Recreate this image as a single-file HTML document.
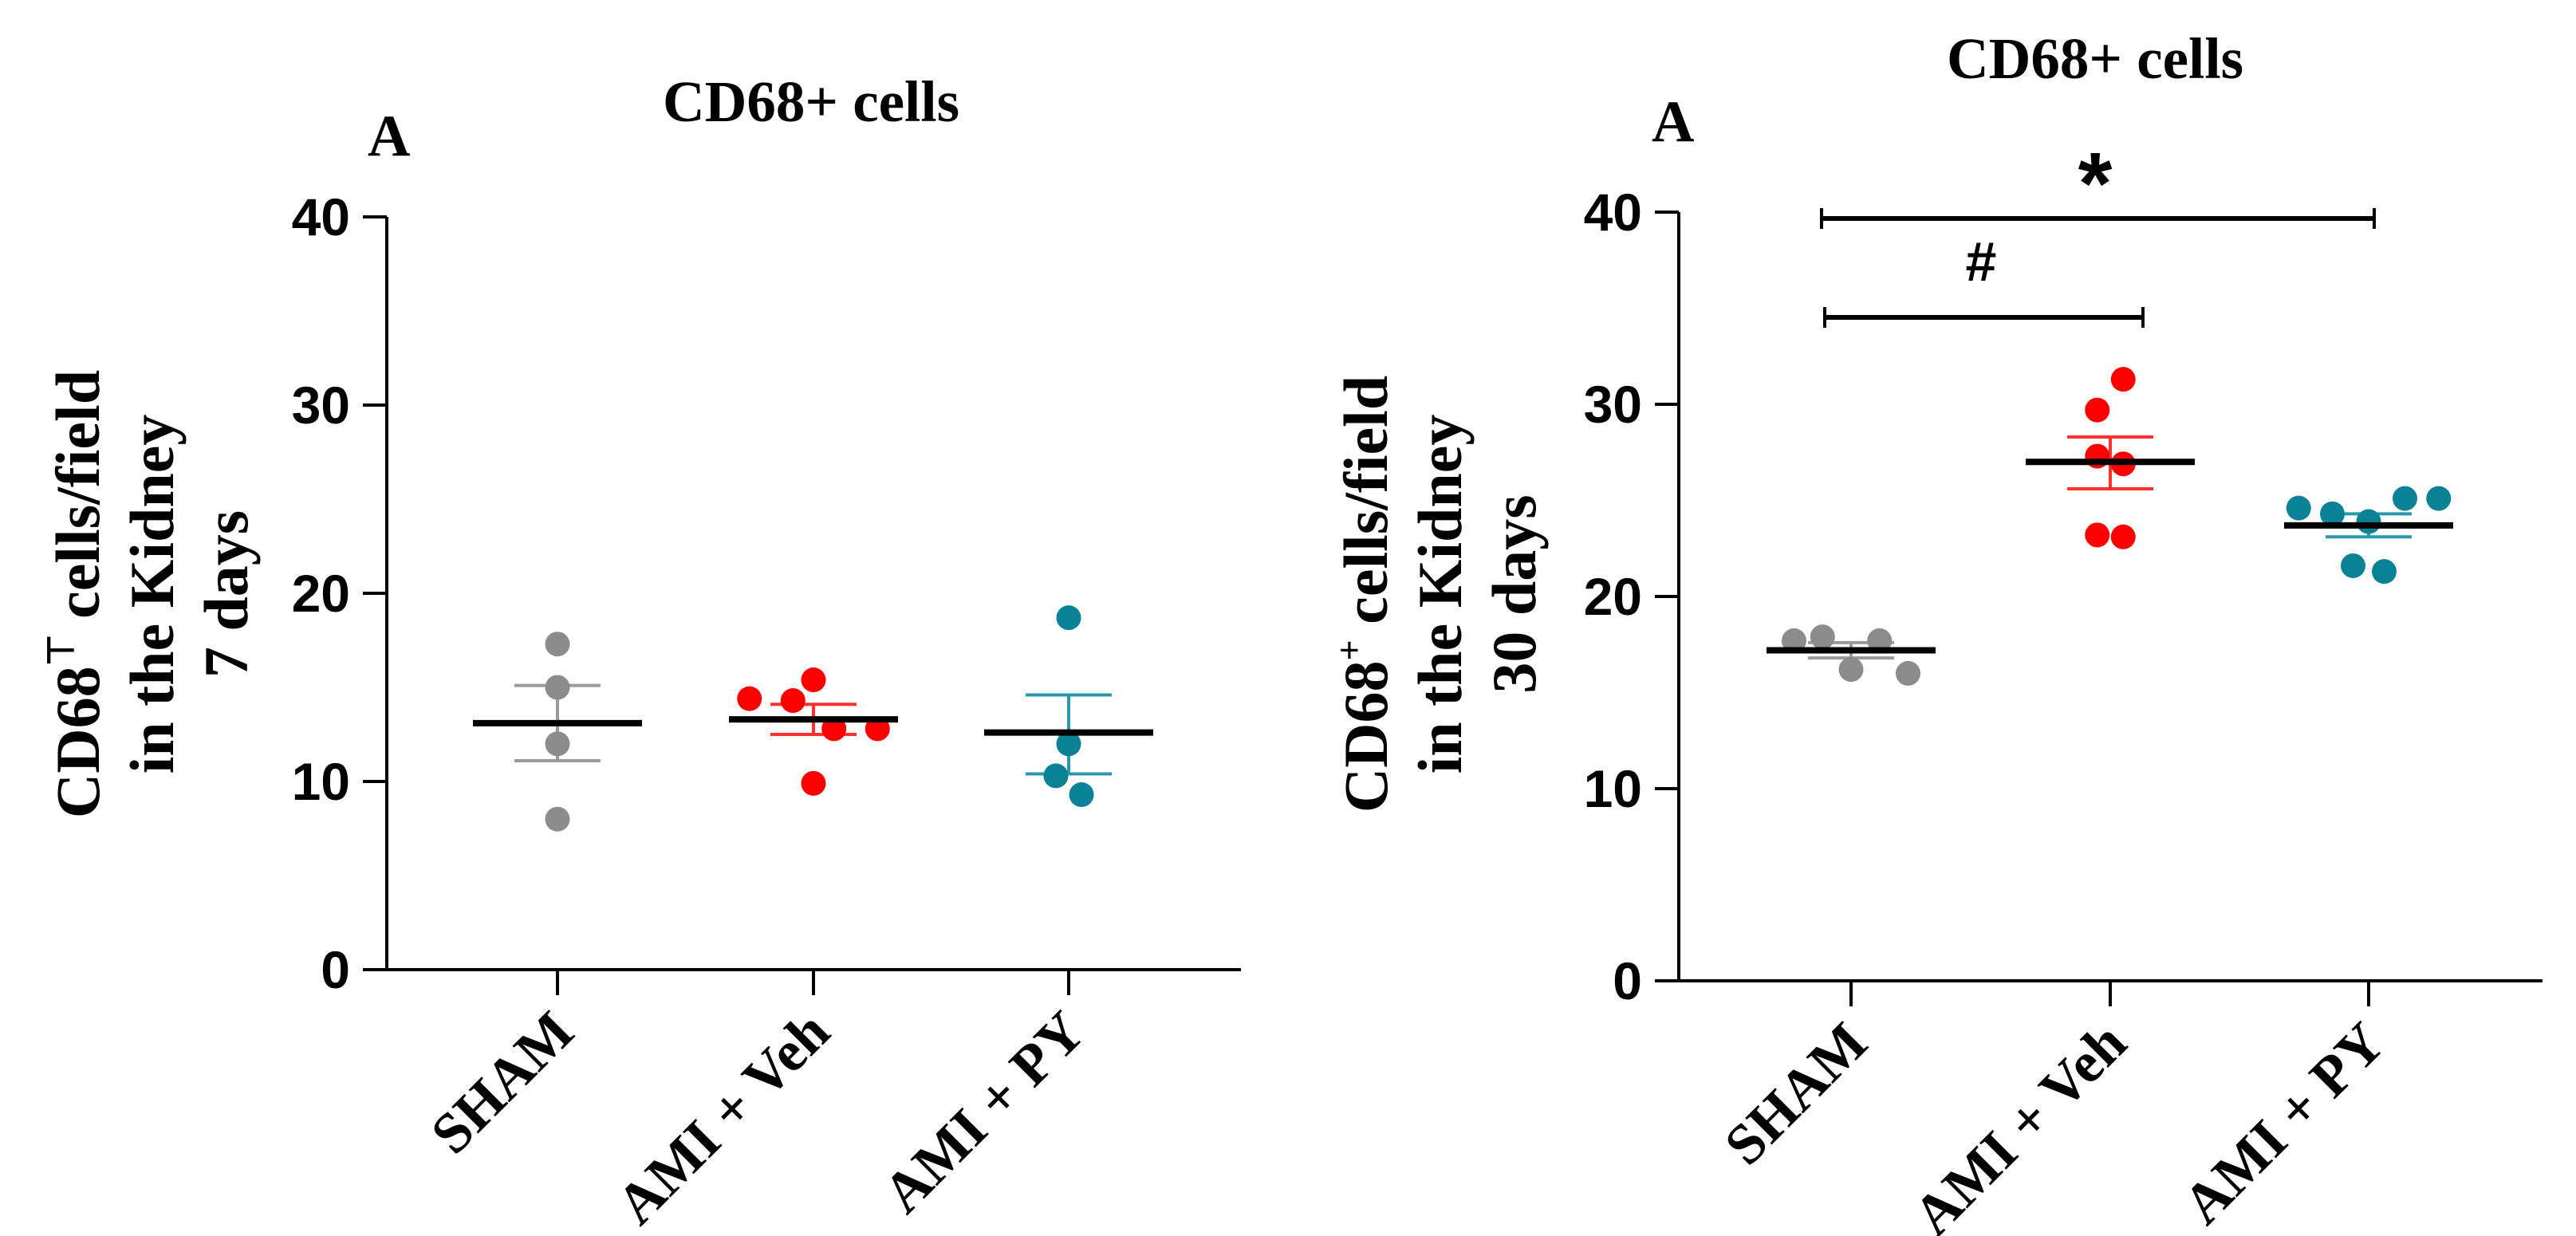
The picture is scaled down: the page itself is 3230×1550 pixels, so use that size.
<!DOCTYPE html>
<html><head><meta charset="utf-8"><style>
html,body{margin:0;padding:0;background:#fff;}
svg{display:block;}
</style></head><body>
<svg id="fig" width="3230" height="1550" viewBox="0 0 3230 1550" xmlns="http://www.w3.org/2000/svg"></svg>
<script>
const categories = ["SHAM", "AMI + Veh", "AMI + PY"];
const colors = ["#8c8c8c", "#ff0000", "#0a8296"];
const semColors = ["#9a9a9a", "#ff3030", "#2a98aa"];
const yTicks = [0, 10, 20, 30, 40];
// Panel 1 (7 days)
const p1Values = [
  [17.3, 15.0, 12.0, 8.0],
  [14.4, 14.3, 15.4, 12.8, 12.8, 9.9],
  [18.7, 12.0, 10.3, 9.3]
];
const p1Jitter = [[0,0,0,0],[-0.25,-0.08,0,0.08,0.25,0],[0,0,-0.05,0.05]];
const p1Mean = [13.1, 13.3, 12.6];
const p1SemHi = [15.1, 14.1, 14.6];
const p1SemLo = [11.1, 12.5, 10.4];
// Panel 2 (30 days)
const p2Values = [
  [17.7, 17.9, 16.2, 17.7, 16.0],
  [31.3, 29.7, 27.3, 26.9, 23.2, 23.1],
  [24.6, 24.3, 21.6, 23.9, 21.3, 25.1, 25.1]
];
const p2Jitter = [[-0.22,-0.11,0,0.11,0.22],[0.05,-0.05,-0.05,0.05,-0.05,0.05],[-0.27,-0.14,-0.06,0,0.06,0.14,0.27]];
const p2Mean = [17.2, 27.0, 23.7];
const p2SemHi = [17.6, 28.3, 24.3];
const p2SemLo = [16.8, 25.6, 23.1];

const NS = "http://www.w3.org/2000/svg";
const svg = document.getElementById("fig");
function el(tag, attrs, parent, text){
  const e = document.createElementNS(NS, tag);
  for (const k in attrs) e.setAttribute(k, attrs[k]);
  if (text !== undefined) e.textContent = text;
  (parent || svg).appendChild(e);
  return e;
}
const serif = '"Liberation Serif", serif';
const sans = '"Liberation Sans", sans-serif';

function panel(cfg, vals, jit, mean, hi, lo, ylabel3, suffix){
  const g = el("g", {});
  
  
  const y = v => cfg.y0 + (cfg.y40 - cfg.y0) * v / 40;
  const x = i => cfg.cx[i];
  const catW = cfg.cx[1] - cfg.cx[0];
  const t = el("text", {x: cfg.titleX, y: cfg.titleY, "font-family": serif, "font-weight": "bold", "font-size": 73, "text-anchor": "middle"}, g, "CD68+ cells");
  
  
  const a = el("text", {x: cfg.aX, y: cfg.aY, "font-family": serif, "font-weight": "bold", "font-size": 74}, g, "A");
  
  
  const lab = el("text", {transform: `translate(${cfg.labX},${cfg.labY}) rotate(-90)`, "font-family": serif, "font-weight": "bold", "font-size": 78, "text-anchor": "middle"}, g);
  
  
  el("tspan", {x: 0, dy: 0}, lab, "CD68");
  el("tspan", {"font-size": 46, dy: -32}, lab, cfg.sup);
  el("tspan", {dy: 32}, lab, " cells/field");
  el("tspan", {x: 0, dy: 93}, lab, "in the Kidney");
  el("tspan", {x: 0, dy: 93}, lab, ylabel3);
  const ax = el("line", {x1: cfg.ax, y1: cfg.y40, x2: cfg.ax, y2: cfg.y0, stroke: "#000", "stroke-width": 4}, g);
  
  
  const xa = el("line", {x1: cfg.ax - 30, y1: cfg.y0, x2: cfg.xEnd, y2: cfg.y0, stroke: "#000", "stroke-width": 4}, g);
  
  
  yTicks.forEach(v => {
    if (v > 0) el("line", {x1: cfg.ax - 30, y1: y(v), x2: cfg.ax, y2: y(v), stroke: "#000", "stroke-width": 4}, g);
    const tl = el("text", {x: cfg.ax - 46, y: y(v) + 23, "font-family": sans, "font-weight": "bold", "font-size": 66, "text-anchor": "end"}, g, String(v));
    
    
  });
  categories.forEach((c, i) => {
    el("line", {x1: x(i), y1: cfg.y0, x2: x(i), y2: cfg.y0 + 32, stroke: "#000", "stroke-width": 4}, g);
    const xl = el("text", {transform: `translate(${x(i) + 24},${cfg.y0 + 82}) rotate(-45)`, "font-family": serif, "font-weight": "bold", "font-size": 72, "text-anchor": "end"}, g, c);
    
    
  });
  vals.forEach((arr, i) => {
    const cx = x(i);
    const semL = el("line", {x1: cx, y1: y(hi[i]), x2: cx, y2: y(lo[i]), stroke: semColors[i], "stroke-width": 4}, g);
    
    
    [hi[i], lo[i]].forEach(v => {
      const cap = el("line", {x1: cx - 54, y1: y(v), x2: cx + 54, y2: y(v), stroke: semColors[i], "stroke-width": 4}, g);
      
      
    });
    arr.forEach((v, j) => {
      const d = el("circle", {cx: cx + jit[i][j] * catW, cy: y(v), r: 15.5, fill: colors[i]}, g);
      
      
    });
    const m = el("line", {x1: cx - 106, y1: y(mean[i]), x2: cx + 106, y2: y(mean[i]), stroke: "#000", "stroke-width": 8}, g);
    
    
  });
  return {g, y, x};
}

panel({y0: 1216, y40: 272, ax: 485, xEnd: 1556, cx: [699, 1020, 1340], titleX: 1017, titleY: 152, aX: 461, aY: 195, labX: 124, labY: 745, sup: "\u22A4"},
  p1Values, p1Jitter, p1Mean, p1SemHi, p1SemLo, "7 days", "7-days");

panel({y0: 1230, y40: 266, ax: 2105, xEnd: 3188, cx: [2321, 2646, 2970], titleX: 2627, titleY: 98, aX: 2071, aY: 177, labX: 1739, labY: 745, sup: "+"},
  p2Values, p2Jitter, p2Mean, p2SemHi, p2SemLo, "30 days", "30-days");

function bracket(x1, x2, yy, label, lx, ly, size, name){
  const b = el("g", {});
  
  
  el("line", {x1: x1, y1: yy, x2: x2, y2: yy, stroke: "#000", "stroke-width": 6}, b);
  el("line", {x1: x1, y1: yy - 13, x2: x1, y2: yy + 13, stroke: "#000", "stroke-width": 4}, b);
  el("line", {x1: x2, y1: yy - 13, x2: x2, y2: yy + 13, stroke: "#000", "stroke-width": 4}, b);
  el("text", {x: lx, y: ly, "font-family": sans, "font-weight": "bold", "font-size": size, "text-anchor": "middle"}, b, label);
}
bracket(2284, 2977, 274, "*", 2627, 268, 110, "significance-star");
bracket(2288, 2687, 398, "#", 2484, 352, 70, "significance-hash");
</script>
</body></html>
